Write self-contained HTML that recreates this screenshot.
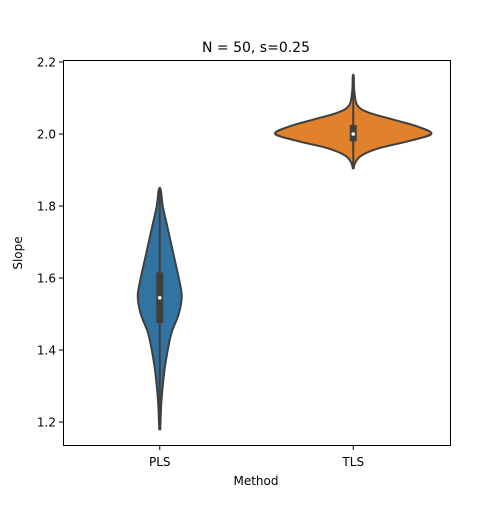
<!DOCTYPE html>
<html><head><meta charset="utf-8"><style>
body{margin:0;background:#fff;}
svg text{font-family:"DejaVu Sans","Liberation Sans",sans-serif;}
</style></head><body>
<svg id="chart" width="500" height="500" xmlns="http://www.w3.org/2000/svg">
<rect width="500" height="500" fill="#fff"/>
<text x="256" y="52" text-anchor="middle" font-size="14">N = 50, s=0.25</text>
<g id="plot"></g>
<rect x="63.5" y="60.5" width="387" height="385" fill="none" stroke="#000" stroke-width="1"/>
<text x="256" y="485" text-anchor="middle" font-size="12">Method</text>
<text x="22" y="253" text-anchor="middle" font-size="12" transform="rotate(-90 22 253)">Slope</text>
</svg>
<script>
const categories = ["PLS","TLS"];
const colors = ["#3274a1","#e1812c"];
const yTicks = [1.2,1.4,1.6,1.8,2.0,2.2];
const plsValues = [1.18,1.25,1.3,1.35,1.4,1.45,1.5,1.55,1.6,1.65,1.7,1.75,1.8,1.845];
const plsDensity = [0.5,1.5,3,5,8,12,19,22,19,15,11,7,3,1];
const tlsValues = [1.905,1.92,1.94,1.96,1.98,2.0,2.02,2.04,2.06,2.08,2.12,2.16];
const tlsDensity = [0.5,2,8,25,55,78,65,40,15,4,1,0.5];
const plsBox = [1.18,1.475,1.545,1.615,1.845];
const tlsBox = [1.905,1.98,2.0,2.025,2.16];

const plotL=63,plotR=450;
function y(v){return 134+(2.0-v)*360;}
function x(i){return plotL+(plotR-plotL)*(i+0.5)/categories.length;}
function w(d){return d;}
const g=document.getElementById('plot');
const NS="http://www.w3.org/2000/svg";
function mk(tag,attrs){const e=document.createElementNS(NS,tag);for(const k in attrs)e.setAttribute(k,attrs[k]);g.appendChild(e);return e;}

yTicks.forEach(t=>{
  const l=mk('line',{x1:59,x2:63,y1:y(t),y2:y(t),stroke:'#000'});
  
  
  const tx=mk('text',{x:56,y:y(t)+4.5,'text-anchor':'end','font-size':12});
  tx.textContent=t.toFixed(1);
  
  
});
categories.forEach((c,i)=>{
  const l=mk('line',{x1:x(i),x2:x(i),y1:446,y2:450,stroke:'#000'});
  
  
  const tx=mk('text',{x:x(i),y:466,'text-anchor':'middle','font-size':12});
  tx.textContent=c;
  
  
});

function violin(i,vals,dens,box,name){
  const cx=x(i);
  let right=vals.map((v,k)=>[cx+w(dens[k]),y(v)]);
  let left=vals.map((v,k)=>[cx-w(dens[k]),y(v)]).reverse();
  const pts=right.concat(left);
  // smooth with catmull-rom
  let d='M'+pts[0][0]+','+pts[0][1];
  for(let k=0;k<pts.length-1;k++){
    const p0=pts[Math.max(k-1,0)],p1=pts[k],p2=pts[k+1],p3=pts[Math.min(k+2,pts.length-1)];
    d+=' C'+(p1[0]+(p2[0]-p0[0])/6)+','+(p1[1]+(p2[1]-p0[1])/6)+' '+(p2[0]-(p3[0]-p1[0])/6)+','+(p2[1]-(p3[1]-p1[1])/6)+' '+p2[0]+','+p2[1];
  }
  d+=' Z';
  const p=mk('path',{d:d,fill:colors[i],stroke:'#3f3f3f','stroke-width':2});
  
  
  const wl=mk('line',{x1:cx,x2:cx,y1:y(box[0]),y2:y(box[4]),stroke:'#3f3f3f','stroke-width':2});
  
  
  const bx=mk('rect',{x:cx-3.5,y:y(box[3]),width:7,height:y(box[1])-y(box[3]),fill:'#3f3f3f'});
  
  
  const m=mk('circle',{cx:cx,cy:y(box[2]),r:1.8,fill:'#fff'});
  
  
}
violin(0,plsValues,plsDensity,plsBox,'pls');
violin(1,tlsValues,tlsDensity,tlsBox,'tls');
</script>
</body></html>
